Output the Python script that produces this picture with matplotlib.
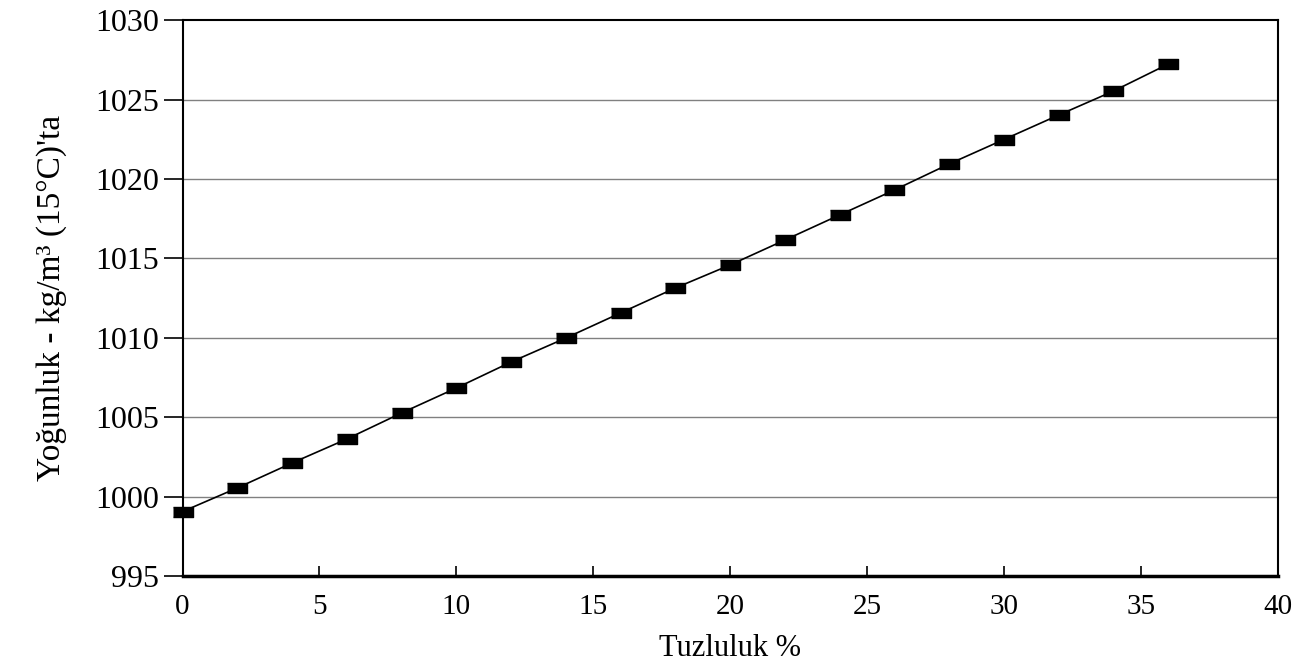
import matplotlib
matplotlib.use('Agg')
import matplotlib.pyplot as plt

plt.rcParams['font.family'] = ['Liberation Serif', 'DejaVu Serif']

# tuzluluk (%) ve 15°C'deki yogunluk (kg/m3)
tuzluluk = [0, 2, 4, 6, 8, 10, 12, 14, 16, 18, 20, 22, 24, 26, 28, 30, 32, 34, 36]
yogunluk = [999.05, 1000.54, 1002.11, 1003.62, 1005.26, 1006.83, 1008.47, 1009.98,
            1011.56, 1013.13, 1014.58, 1016.15, 1017.73, 1019.30, 1020.94, 1022.48,
            1024.02, 1025.53, 1027.23]
x_ticks = [0, 5, 10, 15, 20, 25, 30, 35, 40]
y_ticks = [995, 1000, 1005, 1010, 1015, 1020, 1025, 1030]
grid_vals = [1000, 1005, 1010, 1015, 1020, 1025]

fig = plt.figure(figsize=(13.13, 6.72), dpi=100)
ax = fig.add_axes([0.139, 0.143, 0.834, 0.827])

# yatay kilavuz cizgileri
for g in grid_vals:
    ax.axhline(g, color='0.5', lw=1.0, zorder=1)

# dikdortgen isaretci
rect = [(-1, -0.45), (1, -0.45), (1, 0.45), (-1, 0.45)]
ax.plot(tuzluluk, yogunluk, color='black', lw=1.2, marker=rect, markersize=15,
        markerfacecolor='black', markeredgecolor='black', zorder=3, clip_on=False)

ax.set_xlim(0, 40)
ax.set_ylim(995, 1030)
ax.set_xticks(x_ticks)
ax.set_yticks(y_ticks)
ax.tick_params(axis='x', direction='in', length=7, width=1.2, labelsize=21, pad=13)
ax.tick_params(axis='y', direction='out', length=14, width=1.2, labelsize=23, pad=3)

for s in ['left', 'top', 'right']:
    ax.spines[s].set_linewidth(1.5)
ax.spines['bottom'].set_linewidth(2.5)

ax.set_xlabel('Tuzluluk %', fontsize=22, labelpad=10)
ax.set_ylabel("Yoğunluk - kg/m³ (15°C)'ta", fontsize=24, labelpad=20)

fig.savefig('out.png', dpi=100)
